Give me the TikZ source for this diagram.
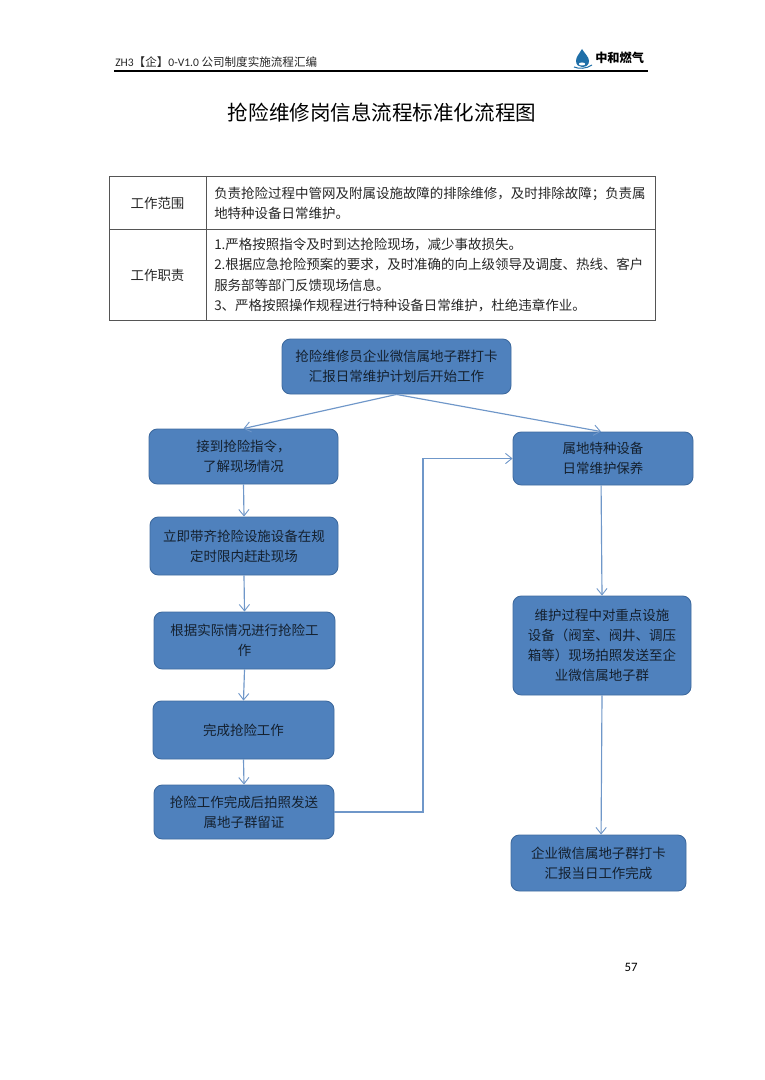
\documentclass[tikz,border=0pt]{standalone}
\usepackage{fontspec}
\setmainfont{Noto Sans CJK SC}
\newfontfamily\latf{Carlito}
\usetikzlibrary{arrows.meta,positioning}
\definecolor{boxfill}{HTML}{4F81BD}
\definecolor{boxline}{HTML}{3F6B9F}
\definecolor{linkcol}{HTML}{6F97C9}
\definecolor{boxtext}{HTML}{14202E}
\definecolor{tabline}{HTML}{555555}
\definecolor{logoblue}{HTML}{1F6FA8}
\tikzset{
  x=0.7788pt,y=-0.7788pt,
  flow/.style={draw=boxline,line width=0.7pt,fill=boxfill,rounded corners=6.5pt,text=boxtext,align=center,inner sep=0pt,
    font=\fontsize{10.5}{15.7}\selectfont},
  link/.style={draw=linkcol,line width=0.9pt,-{Straight Barb[length=5pt,width=8pt,line width=0.7pt]}},
  cell/.style={font=\fontsize{10.5}{15.7}\selectfont,align=left,inner sep=0pt,anchor=west,text=black!85},
  tab/.style={draw=tabline,line width=0.65pt},
}
% box: name, left, top, right, bottom, text
\newcommand{\flowbox}[6]{%
  \pgfmathsetmacro{\boxw}{(#4-#2)*0.7788}%
  \pgfmathsetmacro{\boxh}{(#5-#3)*0.7788}%
  \node[flow,minimum width=\boxw pt,minimum height=\boxh pt] (#1) at ({(#2+#4)/2},{(#3+#5)/2}) {#6};}
\begin{document}
\begin{tikzpicture}
\useasboundingbox[fill=white] (0,0) rectangle (764,1080);
% header
\node[anchor=west,inner sep=0pt,font=\fontsize{9}{11}\selectfont,text=black!85] (hdr) at (115,62)
  {{\latf ZH3}【企】{\latf 0-V1.0} 公司制度实施流程汇编};
\coordinate (ruleL) at (114,71);
\coordinate (ruleR) at (648,71);
\draw[line width=1pt,black] (ruleL) -- (ruleR);
% logo
\fill[logoblue] (582,49) .. controls (579,54) and (576,57) .. (576,61) .. controls (576,65) and (579,67) .. (582,67) .. controls (586,67) and (589,65) .. (589,61) .. controls (589,57) and (585,54) .. (582,49) -- cycle;
\fill[white] (582,64) ellipse (3.2 and 1.5);
\draw[logoblue,line width=0.8pt] (574,67) .. controls (579,69) and (586,69) .. (592,65);
\node[anchor=west,inner sep=0pt,font=\bfseries\fontsize{9.5}{11}\selectfont] (logo) at (595,58) {中和燃气};
% title
\node[font=\fontsize{16}{20}\selectfont,inner sep=0pt] (title) at (382,113) {抢险维修岗信息流程标准化流程图};
% table
\draw[tab] (109,176) rectangle (655.5,320);
\draw[tab] (109,229) -- (655.5,229);
\draw[tab] (206,176) -- (206,320);
\node[cell,anchor=center] (c1) at (157.5,203) {工作范围};
\node[cell,anchor=center] (c2) at (157.5,275) {工作职责};
\node[cell] (c3) at (214,203) {负责抢险过程中管网及附属设施故障的排除维修，及时排除故障；负责属\\地特种设备日常维护。};
\node[cell] (c4) at (214,275) {1.严格按照指令及时到达抢险现场，减少事故损失。\\2.根据应急抢险预案的要求，及时准确的向上级领导及调度、热线、客户\\服务部等部门反馈现场信息。\\3、严格按照操作规程进行特种设备日常维护，杜绝违章作业。};
% flow
\flowbox{top}{282}{339}{511}{394}{抢险维修员企业微信属地子群打卡\\汇报日常维护计划后开始工作}
\flowbox{a}{149}{429}{338}{484}{接到抢险指令，\\了解现场情况}
\flowbox{b}{150}{517}{338}{575}{立即带齐抢险设施设备在规\\定时限内赶赴现场}
\flowbox{c}{154}{612}{335}{669}{根据实际情况进行抢险工\\作}
\flowbox{d}{153}{701}{334}{759}{完成抢险工作}
\flowbox{e}{154}{785}{334}{839}{抢险工作完成后拍照发送\\属地子群留证}
\flowbox{f}{513}{432}{693}{485}{属地特种设备\\日常维护保养}
\flowbox{g}{513}{596}{691}{695}{维护过程中对重点设施\\设备（阀室、阀井、调压\\箱等）现场拍照发送至企\\业微信属地子群}
\flowbox{h}{511}{835}{686}{891}{企业微信属地子群打卡\\汇报当日工作完成}
\coordinate (turnA) at (423,812);
\coordinate (turnB) at (423,458.5);
\draw[link] (top.south) -- (a.north);
\draw[link] (top.south) -- ([xshift=-1.5pt]f.north);
\draw[link] (a.south) -- (b.north);
\draw[link] (b.south) -- (c.north);
\draw[link] (c.south) -- (d.north);
\draw[link] (d.south) -- (e.north);
\draw[link] (e.east) -- (turnA) -- (turnB) -- (f.west);
\draw[link] ([xshift=-1.5pt]f.south) -- (g.north);
\draw[link] (g.south) -- ([xshift=2pt]h.north);
% page number
\node[inner sep=0pt,font=\latf\fontsize{10}{12}\selectfont] (pg) at (631,967) {57};
\end{tikzpicture}
\end{document}
